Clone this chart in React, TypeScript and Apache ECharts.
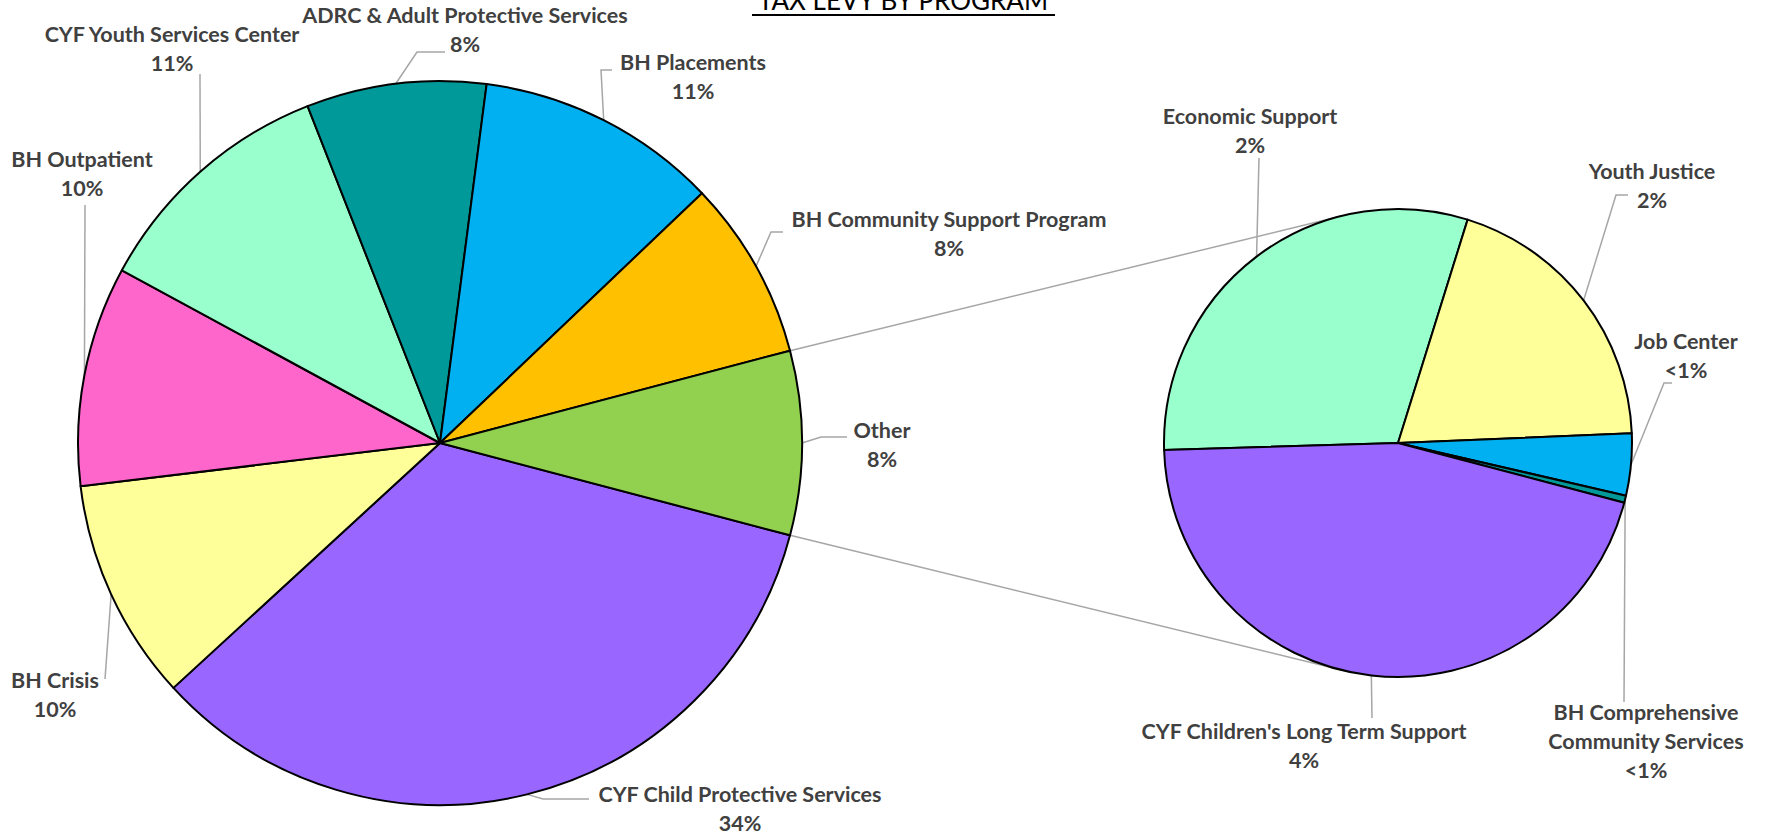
import React, { useEffect, useRef } from 'react';
import * as echarts from 'echarts';

// ---------- DATA ----------
const mainNames = [
  'CYF Child Protective Services',
  'BH Crisis',
  'BH Outpatient',
  'CYF Youth Services Center',
  'ADRC & Adult Protective Services',
  'BH Placements',
  'BH Community Support Program',
  'Other',
];
const mainValues = [34.0, 9.9, 9.8, 11.1, 8.0, 10.8, 8.0]; // % of tax levy ("Other" = sum of breakdown)

const secondaryNames = [
  'Economic Support',
  'Youth Justice',
  'Job Center',
  'BH Comprehensive Community Services',
  "CYF Children's Long Term Support",
];
const secondaryValues = [2.48, 1.6, 0.35, 0.04, 3.72];

// ---------- STYLE ----------
const mainColors = ['#9966FF', '#FFFF99', '#FF66CC', '#99FFCC', '#009999', '#00B0F0', '#FFC000', '#92D050'];
const secondaryColors = ['#99FFCC', '#FFFF99', '#00B0F0', '#009999', '#9966FF'];
const displayNames: Record<string, string> = {
  'BH Comprehensive Community Services': 'BH Comprehensive\nCommunity Services',
};

// label layout: [labelCenterX, labelCenterY, elbowX, elbowY, endX, endY]
const mainLabelLayout = [
  [740, 808, 543, 799, 589, 799],
  [55, 694, 105, 679, 105, 679],
  [82, 173, 85, 205, 85, 205],
  [172, 48, 200, 74, 200, 74],
  [465, 29, 417, 52, 445, 52],
  [693, 76, 601, 70, 612, 70],
  [949, 233, 771, 232, 783, 232],
  [882, 444, 821, 437, 847, 437],
];
const secondaryLabelLayout = [
  [1250, 130, 1259, 158, 1259, 158],
  [1652, 185, 1616, 195, 1628, 195],
  [1686, 355, 1664, 383, 1672, 383],
  [1646, 741, 1624, 702, 1624, 702],
  [1304, 745, 1372, 718, 1372, 718],
];

const MAIN_C = [440, 443];
const MAIN_R = 362;
const SEC_C = [1398, 443];
const SEC_R = 234;

export default function App() {
  const ref = useRef<HTMLDivElement>(null);
  useEffect(() => {
    const chart = echarts.init(ref.current!, null, { renderer: 'svg' });
    const otherValue = secondaryValues.reduce((a, b) => a + b, 0);
    const fullMain = [...mainValues, otherValue];
    const total = fullMain.reduce((a, b) => a + b, 0);
    const otherDeg = (otherValue / total) * 360;
    const mainStart = -otherDeg / 2;

    const pct = (v: number) => {
      const p = (v / total) * 100;
      return p < 1 ? '<1%' : Math.round(p) + '%';
    };
    const labelFmt = (p: any) => `${displayNames[p.name] || p.name}\n${pct(p.value)}`;

    const labelStyle = {
      show: true,
      formatter: labelFmt,
      color: '#404040',
      fontFamily: 'Lato',
      fontWeight: 'bold' as const,
      fontSize: 21.5,
      lineHeight: 29,
      align: 'center' as const,
    };
    const labelLine = {
      show: true,
      length: 10,
      length2: 10,
      smooth: false,
      lineStyle: { color: '#A6A6A6', width: 1.5 },
    };
    const mkLayout = (layout: number[][]) => (params: any) => {
      const l = layout[params.dataIndex];
      const edge = params.labelLinePoints ? params.labelLinePoints[0] : [l[2], l[3]];
      return {
        x: l[0],
        y: l[1],
        align: 'center',
        verticalAlign: 'middle',
        labelLinePoints: [edge, [l[2], l[3]], [l[4], l[5]]],
      };
    };

    // connector lines
    const a = (otherDeg / 2) * Math.PI / 180;
    const p1 = [MAIN_C[0] + MAIN_R * Math.cos(a), MAIN_C[1] - MAIN_R * Math.sin(a)];
    const p2 = [MAIN_C[0] + MAIN_R * Math.cos(a), MAIN_C[1] + MAIN_R * Math.sin(a)];
    const b = (104 * Math.PI) / 180;
    const q1 = [SEC_C[0] + SEC_R * Math.cos(b), SEC_C[1] - SEC_R * Math.sin(b)];
    const q2 = [SEC_C[0] + SEC_R * Math.cos(b), SEC_C[1] + SEC_R * Math.sin(b)];

    const option: any = {
      animation: false,
      backgroundColor: '#ffffff',
      graphic: [
        {
          type: 'text',
          x: 903,
          y: 0,
          style: {
            text: 'TAX LEVY BY PROGRAM',
            fontFamily: 'Lato',
            fontSize: 26,
            fill: '#000000',
            align: 'center',
            verticalAlign: 'middle',
          },
        },
        {
          type: 'line',
          shape: { x1: 752, y1: 15, x2: 1055, y2: 15 },
          style: { stroke: '#000000', lineWidth: 2 },
        },
        {
          type: 'line',
          shape: { x1: p1[0], y1: p1[1], x2: q1[0], y2: q1[1] },
          style: { stroke: '#A6A6A6', lineWidth: 1.5 },
        },
        {
          type: 'line',
          shape: { x1: p2[0], y1: p2[1], x2: q2[0], y2: q2[1] },
          style: { stroke: '#A6A6A6', lineWidth: 1.5 },
        },
      ],
      series: [
        {
          type: 'pie',
          center: MAIN_C,
          radius: MAIN_R,
          startAngle: mainStart,
          clockwise: true,
          avoidLabelOverlap: false,
          data: mainNames.map((n, i) => ({ name: n, value: fullMain[i], itemStyle: { color: mainColors[i] } })),
          itemStyle: { borderColor: '#000000', borderWidth: 2 },
          label: labelStyle,
          labelLine,
          labelLayout: mkLayout(mainLabelLayout),
          emphasis: { disabled: true },
        },
        {
          type: 'pie',
          center: SEC_C,
          radius: SEC_R,
          startAngle: 181.7,
          clockwise: true,
          minAngle: 0,
          avoidLabelOverlap: false,
          data: secondaryNames.map((n, i) => ({ name: n, value: secondaryValues[i], itemStyle: { color: secondaryColors[i] } })),
          itemStyle: { borderColor: '#000000', borderWidth: 2 },
          label: labelStyle,
          labelLine,
          labelLayout: mkLayout(secondaryLabelLayout),
          emphasis: { disabled: true },
        },
      ],
    };
    chart.setOption(option);
    return () => chart.dispose();
  }, []);
  return (
    <div
      ref={ref}
      style={{ position: 'fixed', left: 0, top: 0, width: 1775, height: 838, background: '#fff' }}
    />
  );
}
